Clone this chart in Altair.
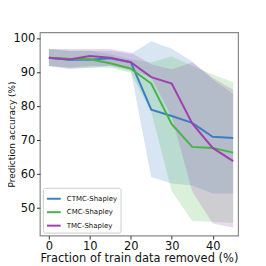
import altair as alt
import pandas as pd

x_vals = [0, 5, 10, 15, 20, 25, 30, 35, 40, 45]
series = ["CTMC-Shapley", "CMC-Shapley", "TMC-Shapley"]
colors = ["#3b7ec4", "#46b446", "#a040b0"]

ctmc = [94.4, 93.8, 93.8, 94.3, 93.1, 79.1, 77.2, 75.2, 71.1, 70.7]
cmc = [94.4, 94.1, 94.0, 92.8, 91.2, 86.8, 74.8, 68.1, 67.8, 66.4]
tmc = [94.4, 93.9, 94.9, 94.4, 93.1, 88.7, 86.8, 75.0, 67.8, 63.9]

ctmc_hi = [97.0, 96.5, 96.5, 96.5, 95.5, 99.3, 97.1, 93.3, 88.1, 83.7]
ctmc_lo = [92.0, 91.0, 91.5, 92.0, 90.5, 59.2, 57.3, 56.7, 54.3, 54.3]
cmc_hi = [97.0, 96.5, 96.5, 95.5, 94.0, 93.0, 94.8, 92.0, 89.5, 87.2]
cmc_lo = [92.0, 91.5, 91.5, 91.5, 90.0, 78.5, 55.0, 46.2, 46.0, 45.6]
tmc_hi = [97.0, 97.0, 97.0, 97.0, 96.0, 92.5, 91.0, 93.0, 88.5, 85.0]
tmc_lo = [92.0, 91.5, 92.0, 92.0, 91.0, 88.5, 77.0, 55.0, 45.5, 44.3]

rows = []
for name, m, lo, hi in zip(series, [ctmc, cmc, tmc], [ctmc_lo, cmc_lo, tmc_lo], [ctmc_hi, cmc_hi, tmc_hi]):
    for xi, mi, li, hi_ in zip(x_vals, m, lo, hi):
        rows.append({"x": xi, "mean": mi, "lo": li, "hi": hi_, "method": name})
df = pd.DataFrame(rows)

xscale = alt.Scale(domain=[-2.2, 46.2], nice=False, zero=False)
yscale = alt.Scale(domain=[41.9, 101.9], nice=False, zero=False)
cscale = alt.Scale(domain=series, range=colors)

FONT = "DejaVu Sans"
xaxis = alt.Axis(values=[0, 10, 20, 30, 40], title="Fraction of train data removed (%)",
                 labelFontSize=11.5, titleFontSize=11.5, labelColor="#111", titleColor="#111",
                 titleFontWeight="normal", grid=False, domain=False, tickColor="#333",
                 tickSize=3.5, labelPadding=1.5, titlePadding=1, labelFont=FONT,
                 titleFont=FONT)
yaxis = alt.Axis(values=[50, 60, 70, 80, 90, 100], title="Prediction accuracy (%)",
                 labelFontSize=11.5, titleFontSize=9, labelColor="#111", titleColor="#111",
                 titleFontWeight="normal", grid=False, domain=False, tickColor="#333",
                 tickSize=3.5, labelPadding=1.5, titleX=-23.5, labelFont=FONT,
                 titleFont=FONT)

base = alt.Chart(df)

bands = base.mark_area(opacity=0.2).encode(
    x=alt.X("x:Q", scale=xscale, axis=xaxis),
    y=alt.Y("lo:Q", scale=yscale, axis=yaxis, stack=None),
    y2="hi:Q",
    color=alt.Color("method:N", scale=cscale, legend=None),
    detail="method:N",
)

lines = base.mark_line(strokeWidth=2).encode(
    x=alt.X("x:Q", scale=xscale),
    y=alt.Y("mean:Q", scale=yscale),
    color=alt.Color("method:N", scale=cscale, sort=series,
                    legend=alt.Legend(title=None, orient="bottom-left", offset=3,
                                      fillColor="white", strokeColor="#ccc",
                                      padding=3, labelFontSize=7, labelFont=FONT,
                                      labelColor="#111", labelOffset=5,
                                      symbolType="stroke", symbolStrokeWidth=2,
                                      symbolSize=190, rowPadding=1.5, cornerRadius=2)),
)

chart = (bands + lines).resolve_legend(color="independent").properties(
    width=199, height=204,
    padding={"left": 32, "top": 24, "right": 20, "bottom": 30},
    autosize=alt.AutoSizeParams(type="none"),
).configure_view(stroke="#8a8a8a", strokeWidth=1.2)

chart.save("out.html", embed_options={"renderer": "svg", "actions": False})
